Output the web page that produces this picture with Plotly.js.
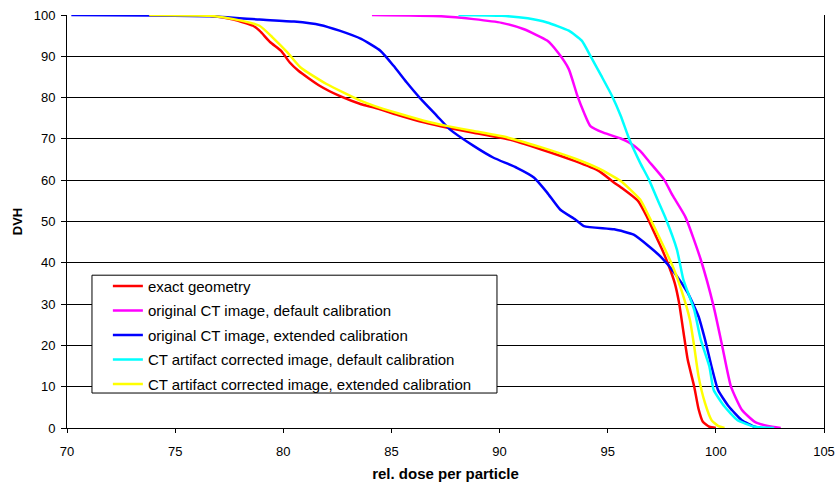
<!DOCTYPE html>
<html>
<head>
<meta charset="utf-8">
<script src="https://cdn.plot.ly/plotly-3.0.1.min.js"></script>
<style>html,body{margin:0;padding:0;background:#fff;}#chart{width:836px;height:485px;}</style>
</head>
<body>
<div id="chart"></div>
<script>
// Series names
var seriesNames = [
  "exact geometry",
  "original CT image, default calibration",
  "original CT image, extended calibration",
  "CT artifact corrected image, default calibration",
  "CT artifact corrected image, extended calibration"
];

// exact geometry
var exactX = [73.8, 76.6, 77.7, 78.6, 78.9, 79.4, 79.9, 80.3, 80.7, 81.7, 82.6, 83.6, 84.2, 85.3, 86.5, 87.6, 88.8, 90.4, 91.9, 93.5, 94.6, 95.3, 95.6, 96.4, 96.8, 97.2, 97.5, 97.8, 98.1, 98.3, 98.5, 98.7, 99.0, 99.2, 99.4, 99.7, 100.0];
var exactY = [100, 99.8, 98.9, 97.4, 96.2, 93.4, 91.3, 88.5, 86.5, 82.8, 80.4, 78.4, 77.6, 75.8, 74.0, 72.7, 71.5, 69.9, 67.5, 64.6, 62.2, 59.4, 58.3, 55.0, 51.3, 46.8, 43.4, 39.6, 35.1, 30.3, 23.3, 16.5, 10.0, 4.6, 1.5, 0.3, 0];

// original CT image, default calibration
var origDefX = [84.1, 87.3, 88.8, 90.1, 91.1, 92.2, 92.7, 93.2, 93.6, 93.9, 94.2, 94.8, 95.6, 96.0, 96.5, 96.9, 97.6, 98.0, 98.6, 99.3, 99.9, 100.3, 100.7, 101.2, 101.8, 102.4, 103.0];
var origDefY = [100, 99.7, 99.0, 98.1, 96.6, 93.8, 90.9, 86.9, 80.4, 76.4, 73.1, 71.5, 70.1, 69.1, 67.1, 64.6, 60.2, 56.3, 51.0, 40.8, 29.4, 19.7, 10.0, 4.4, 1.5, 0.5, 0];

// original CT image, extended calibration
var origExtX = [70.2, 73.8, 76.6, 78.9, 80.5, 81.7, 82.6, 83.6, 84.5, 85.1, 85.7, 86.3, 87.1, 87.7, 88.8, 89.7, 90.8, 91.6, 92.2, 92.8, 93.5, 93.9, 95.3, 96.2, 96.9, 97.5, 98.1, 98.7, 99.2, 99.5, 99.8, 100.1, 100.6, 101.2, 101.8, 102.1];
var origExtY = [100, 99.9, 99.7, 98.9, 98.4, 97.6, 96.2, 94.2, 91.3, 87.7, 83.7, 80.0, 75.6, 72.3, 68.3, 65.5, 63.0, 60.6, 57.0, 52.9, 50.5, 48.9, 48.1, 46.8, 44.0, 41.2, 37.5, 32.7, 27.0, 21.4, 14.9, 9.2, 5.2, 1.9, 0.3, 0];

// CT artifact corrected image, default calibration
var corrDefX = [88.1, 90.1, 91.3, 92.2, 93.2, 93.8, 94.2, 94.7, 95.2, 95.6, 96.0, 96.5, 96.9, 97.3, 97.7, 98.2, 98.5, 99.0, 99.3, 99.7, 99.9, 100.4, 101.0, 101.8, 102.7];
var corrDefY = [100, 99.8, 99.2, 98.2, 96.2, 93.8, 90.1, 85.3, 80.4, 75.6, 69.9, 64.2, 60.2, 55.3, 50.5, 43.2, 35.9, 28.6, 21.4, 14.9, 9.2, 5.2, 1.9, 0.3, 0];

// CT artifact corrected image, extended calibration
var corrExtX = [73.8, 76.6, 77.7, 78.9, 79.5, 80.2, 80.8, 82.0, 83.6, 84.2, 85.3, 86.5, 87.6, 88.8, 90.4, 91.9, 93.5, 94.6, 95.6, 96.5, 96.9, 97.4, 98.0, 98.4, 98.8, 99.0, 99.2, 99.5, 99.8, 100.1, 100.4];
var corrExtY = [100, 99.8, 99.0, 97.4, 94.6, 90.9, 87.3, 83.3, 79.2, 78.0, 76.2, 74.4, 73.1, 71.9, 70.3, 68.0, 65.2, 62.8, 59.8, 55.3, 51.3, 46.0, 39.2, 33.5, 26.2, 19.7, 12.5, 6.0, 1.9, 0.5, 0];

var xTicks = [70, 75, 80, 85, 90, 95, 100, 105];
var yTicks = [0, 10, 20, 30, 40, 50, 60, 70, 80, 90, 100];

var colors = ["#FF0000", "#FF00FF", "#0000FF", "#00FFFF", "#FFFF00"];
var xs = [exactX, origDefX, origExtX, corrDefX, corrExtX];
var ys = [exactY, origDefY, origExtY, corrDefY, corrExtY];

var traces = seriesNames.map(function (n, i) {
  return {
    type: "scatter", mode: "lines", name: n,
    x: xs[i], y: ys[i], legendgroup: "g" + i,
    line: {color: colors[i], width: 2.5, shape: "spline", smoothing: 0.5}
  };
});

var layout = {
  width: 836, height: 485,
  margin: {l: 67, r: 12, t: 15, b: 57},
  paper_bgcolor: "#fff", plot_bgcolor: "#fff",
  font: {family: "Liberation Sans, Arial, sans-serif", size: 13, color: "#000"},
  showlegend: true,
  legend: {
    x: 0.054, y: 0.383, xanchor: "left", yanchor: "top",
    bgcolor: "rgba(0,0,0,0)", borderwidth: 0,
    font: {family: "Liberation Sans, Arial, sans-serif", size: 15, color: "#000"},
    tracegroupgap: 2, itemwidth: 30
  },
  shapes: [{
    type: "rect", xref: "paper", yref: "paper", layer: "above",
    x0: 0.033, x1: 0.568, y0: 0.0847, y1: 0.370,
    fillcolor: "#fff", line: {color: "#000", width: 1}
  }],
  xaxis: {
    range: [70, 105], tickvals: xTicks, ticktext: xTicks.map(String),
    showgrid: false, zeroline: false,
    showline: true, linecolor: "#000", linewidth: 1,
    ticks: "outside", ticklen: 4, tickcolor: "#000",
    tickfont: {size: 13}, ticklabelstandoff: 7,
    title: {text: "<b>rel. dose per particle</b>", font: {size: 15}, standoff: 10}
  },
  yaxis: {
    range: [0, 100], tickvals: yTicks, ticktext: yTicks.map(String),
    showgrid: true, gridcolor: "#000", gridwidth: 1,
    zeroline: false,
    showline: true, linecolor: "#000", linewidth: 1, mirror: true,
    ticks: "outside", ticklen: 5, tickcolor: "#000",
    tickfont: {size: 13}, ticklabelstandoff: 3,
    title: {text: "<b>DVH</b>", font: {size: 13}, standoff: 8}
  }
};

Plotly.newPlot("chart", traces, layout, {displayModeBar: false, staticPlot: true});
</script>
</body>
</html>
